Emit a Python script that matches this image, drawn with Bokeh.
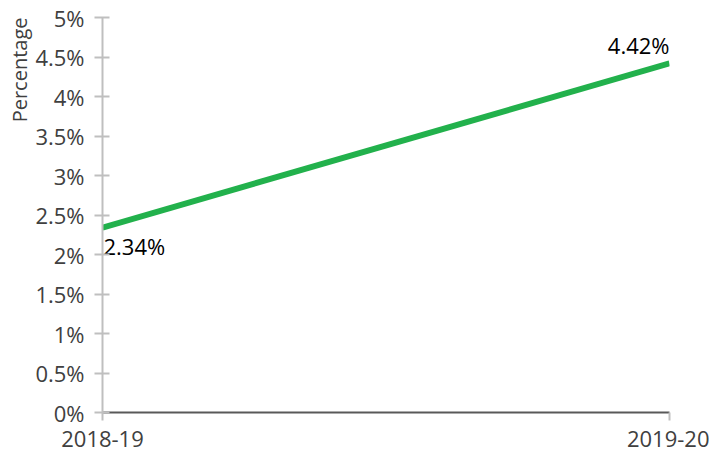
from bokeh.plotting import figure
from bokeh.models import FixedTicker, Title, ColumnDataSource, Range1d
from bokeh.core.properties import value
from bokeh.embed import file_html
from bokeh.resources import INLINE

years = ["2018-19", "2019-20"]
pct = [2.34, 4.42]
pct_labels = ["2.34%", "4.42%"]
y_ticks = [0, 0.5, 1, 1.5, 2, 2.5, 3, 3.5, 4, 4.5, 5]
y_tick_labels = ["0%", "0.5%", "1%", "1.5%", "2%", "2.5%", "3%", "3.5%", "4%", "4.5%", "5%"]

FONT = "Open Sans"
xs = list(range(len(years)))

p = figure(width=709, height=452, output_backend="svg", toolbar_location=None,
           x_range=Range1d(0, len(years) - 1), y_range=Range1d(0, 5),
           min_border_left=102, min_border_right=40, min_border_top=17, min_border_bottom=40)
p.outline_line_color = None
p.xgrid.grid_line_color = None
p.ygrid.grid_line_color = None
p.background_fill_color = "white"
p.border_fill_color = "white"

src = ColumnDataSource(dict(x=xs, y=pct, lab=pct_labels))
p.line("x", "y", source=src, line_color="#22b14c", line_width=6)

# data labels
p.text(x=[xs[0]], y=[pct[0]], text=[pct_labels[0]], text_align="left", text_baseline="top",
       x_offset=1, y_offset=3, text_font=value(FONT), text_font_size="22px", text_color="black")
p.text(x=[xs[1]], y=[pct[1]], text=[pct_labels[1]], text_align="right", text_baseline="bottom",
       x_offset=0, y_offset=-3, text_font=value(FONT), text_font_size="22px", text_color="black")

# x axis
xa = p.xaxis[0]
xa.ticker = FixedTicker(ticks=xs)
xa.major_label_overrides = {i: s for i, s in enumerate(years)}
xa.axis_line_color = "#595959"
xa.axis_line_width = 2
xa.major_tick_line_color = "#bfbfbf"
xa.major_tick_line_width = 2
xa.major_tick_out = 8
xa.major_tick_in = 0
xa.minor_tick_line_color = None
xa.major_label_standoff = 10
xa.major_label_text_font = FONT
xa.major_label_text_font_size = "22px"
xa.major_label_text_color = "#404040"

# y axis
ya = p.yaxis[0]
ya.ticker = FixedTicker(ticks=y_ticks)
ya.major_label_overrides = {t: s for t, s in zip(y_ticks, y_tick_labels)}
ya.axis_line_color = "#bfbfbf"
ya.axis_line_width = 2
ya.major_tick_line_color = "#bfbfbf"
ya.major_tick_line_width = 2
ya.major_tick_out = 8
ya.major_tick_in = 7
ya.minor_tick_line_color = None
ya.major_label_standoff = 10
ya.major_label_text_font = FONT
ya.major_label_text_font_size = "22px"
ya.major_label_text_color = "#404040"

p.add_layout(Title(text="Percentage", align="right", text_font=FONT, text_font_size="20px",
                   text_font_style="normal", text_color="#404040", standoff=0), "left")

open("out.html", "w").write(file_html(p, INLINE))
